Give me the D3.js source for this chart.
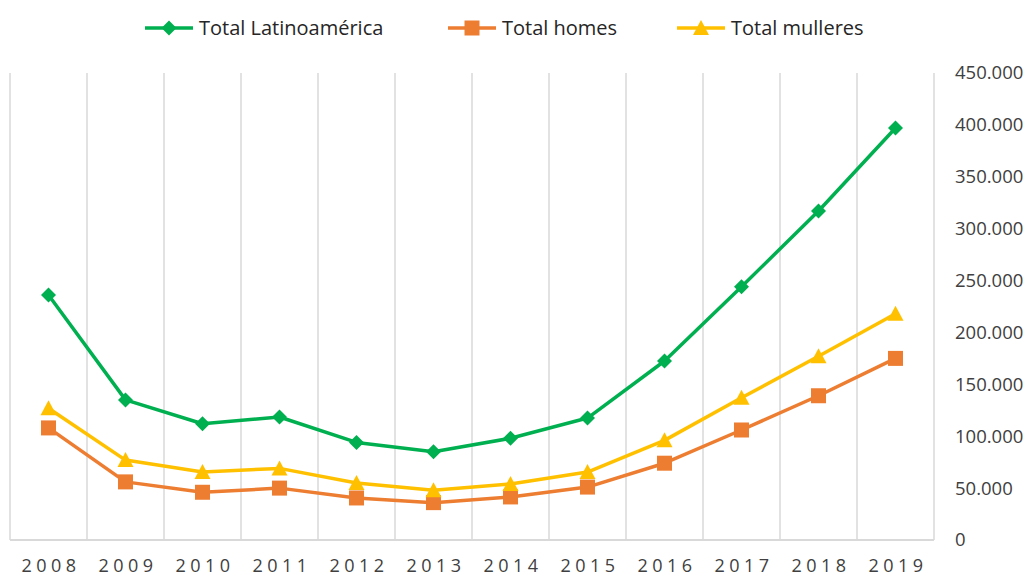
<!DOCTYPE html>
<meta charset="utf-8">
<style>
  body { margin: 0; background: #fff; }
  svg { font-family: "Open Sans", sans-serif; }
  .grid line { stroke: #d9d9d9; stroke-width: 1.5px; }
  .xlab text { fill: #404040; font-size: 18px; letter-spacing: 4.5px; }
  .ylab text { fill: #404040; font-size: 18.5px; }
  .legend text { fill: #262626; font-size: 20px; }
</style>
<svg width="1027" height="577"></svg>
<script src="https://d3js.org/d3.v7.min.js"></script>
<script>
var years = ["2008","2009","2010","2011","2012","2013","2014","2015","2016","2017","2018","2019"];
var latino  = [236000,135000,112000,118500,94000,85000,98000,117500,172500,244000,317000,397000];
var homes   = [108000, 56000, 46000, 50000,40500,36000,41500, 51000, 74000,106000,139000,175000];
var mulleres= [127000, 77000, 65500, 69000,55000,48000,54000, 65500, 96000,137000,177000,218000];
var yTicks  = [0,50000,100000,150000,200000,250000,300000,350000,400000,450000];

var series = [
  {name: "Total Latinoamérica", values: latino,   color: "#00b050", marker: "diamond"},
  {name: "Total homes",         values: homes,    color: "#ed7d31", marker: "square"},
  {name: "Total mulleres",      values: mulleres, color: "#ffc000", marker: "triangle"}
];

var svg = d3.select("svg");

var x = d3.scaleBand().domain(years).range([10, 934]);
var y = d3.scaleLinear().domain([0, 450000]).range([540, 73]);

// vertical gridlines at band edges
var edges = years.map(d => x(d)).concat([934]);
svg.append("g").attr("class", "grid")
  .selectAll().data(edges).enter().append("line")
  .attr("x1", d => d).attr("x2", d => d)
  .attr("y1", 73).attr("y2", 540);
svg.append("line").attr("x1", 10).attr("x2", 934).attr("y1", 540).attr("y2", 540)
  .attr("stroke", "#d9d9d9").attr("stroke-width", 2);

// x labels
svg.append("g").attr("class", "xlab")
  .selectAll().data(years).enter().append("text")
  .attr("x", d => x(d) + x.bandwidth() / 2 + 2.5)
  .attr("y", 572)
  .attr("text-anchor", "middle")
  .text(d => d);

// y labels on the right
var fmt = d => d === 0 ? "0" : d3.format(",")(d).replace(/,/g, ".");
svg.append("g").attr("class", "ylab")
  .selectAll().data(yTicks).enter().append("text")
  .attr("x", 955)
  .attr("y", d => y(d))
  .attr("dy", "0.35em")
  .text(fmt);

function markerPath(type, size) {
  var s = size / 2;
  if (type === "diamond") return `M0,${-s}L${s},0L0,${s}L${-s},0Z`;
  if (type === "square") return `M${-s},${-s}H${s}V${s}H${-s}Z`;
  return `M0,${-s - 1}L${s + 1},${s}L${-s - 1},${s}Z`;
}
var sizes = {diamond: 15, square: 15, triangle: 14};

var line = d3.line()
  .x((d, i) => x(years[i]) + x.bandwidth() / 2)
  .y(d => y(d));

series.forEach(function(s) {
  var g = svg.append("g");
  g.append("path")
    .attr("d", line(s.values))
    .attr("fill", "none")
    .attr("stroke", s.color)
    .attr("stroke-width", 3.5)
    .attr("stroke-linejoin", "round");
  g.selectAll().data(s.values).enter().append("path")
    .attr("transform", (d, i) => `translate(${x(years[i]) + x.bandwidth() / 2},${y(d)})`)
    .attr("d", markerPath(s.marker, sizes[s.marker]))
    .attr("fill", s.color);
});

// legend
var legendX = [145, 448, 677];
var lg = svg.append("g").attr("class", "legend");
series.forEach(function(s, i) {
  var g = lg.append("g").attr("transform", `translate(${legendX[i]},28)`);
  g.append("line").attr("x1", 0).attr("x2", 48).attr("y1", 0).attr("y2", 0)
    .attr("stroke", s.color).attr("stroke-width", 3.5);
  g.append("path").attr("transform", "translate(24,0)")
    .attr("d", markerPath(s.marker, sizes[s.marker]))
    .attr("fill", s.color);
  g.append("text").attr("x", 54).attr("y", 0).attr("dy", "0.35em").text(s.name);
});
</script>
